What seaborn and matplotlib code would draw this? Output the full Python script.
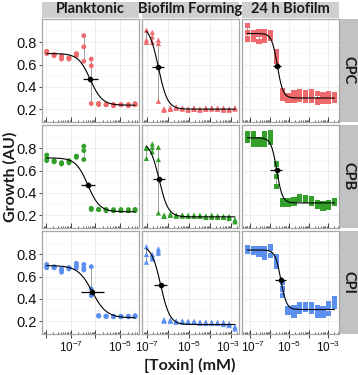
import numpy as np
import pandas as pd
import matplotlib
matplotlib.use('Agg')
import matplotlib.pyplot as plt
import matplotlib.transforms as mtransforms
from matplotlib.patches import Rectangle
from matplotlib.ticker import FixedLocator, FuncFormatter, LogLocator, NullFormatter
import seaborn as sns

stages = ['Planktonic', 'Biofilm Forming', '24 h Biofilm']
toxins = ['CPC', 'CPB', 'CPI']
colors = ['#EE6A6D', '#33A02C', '#5B8FF0']
markers = ['o', '^', 's']

# log10 of [Toxin] (mM) for each stage
logc_plank = [-7.97, -7.67, -7.37, -7.07, -6.77, -6.47, -6.17, -5.87, -5.57, -5.27, -4.97, -4.67, -4.40]
logc_form = [-7.03, -6.75, -6.46, -6.19, -5.89, -5.61, -5.32, -5.04, -4.76, -4.48, -4.20, -3.92, -3.64, -3.36, -3.09, -2.81]
logc_24h = [-7.16, -6.86, -6.56, -6.26, -5.96, -5.67, -5.37, -5.07, -4.77, -4.47, -4.18, -3.88, -3.58, -3.28, -2.98, -2.69]

# growth replicates (AU), one triplet per concentration
cpc_plank = [[0.72, 0.70, 0.71], [0.69, 0.69, 0.68], [0.68, 0.66, 0.65], [0.66, 0.65, 0.66], [0.70, 0.68, 0.69],
             [0.86, 0.76, 0.63], [0.65, 0.59, 0.25], [0.25, 0.25, 0.24], [0.24, 0.24, 0.24], [0.24, 0.24, 0.23],
             [0.24, 0.24, 0.24], [0.24, 0.24, 0.23], [0.24, 0.25, 0.24]]
cpb_plank = [[0.74, 0.71, 0.69], [0.69, 0.68, 0.68], [0.67, 0.66, 0.67], [0.69, 0.68, 0.67], [0.73, 0.72, 0.73],
             [0.82, 0.78, 0.70], [0.26, 0.25, 0.26], [0.25, 0.25, 0.25], [0.25, 0.24, 0.25], [0.24, 0.25, 0.24],
             [0.25, 0.24, 0.24], [0.24, 0.24, 0.25], [0.25, 0.24, 0.25]]
cpi_plank = [[0.71, 0.68, 0.69], [0.69, 0.68, 0.68], [0.67, 0.64, 0.66], [0.68, 0.67, 0.68], [0.72, 0.70, 0.68],
             [0.71, 0.68, 0.66], [0.69, 0.49, 0.43], [0.25, 0.245, 0.25], [0.245, 0.24, 0.245], [0.24, 0.245, 0.24],
             [0.245, 0.24, 0.24], [0.24, 0.24, 0.245], [0.25, 0.245, 0.24]]

cpc_form = [[0.91, 0.82, 0.80], [0.89, 0.85, 0.80], [0.82, 0.79, 0.27], [0.20, 0.19, 0.20], [0.21, 0.20, 0.20],
            [0.22, 0.21, 0.21], [0.21, 0.20, 0.21], [0.20, 0.20, 0.19], [0.21, 0.20, 0.20], [0.20, 0.19, 0.20],
            [0.21, 0.20, 0.20], [0.21, 0.20, 0.21], [0.21, 0.20, 0.20], [0.21, 0.19, 0.20], [0.20, 0.19, 0.20],
            [0.21, 0.20, 0.21]]
cpb_form = [[0.81, 0.80, 0.71], [0.84, 0.81, 0.77], [0.81, 0.70, 0.22], [0.19, 0.20, 0.19], [0.20, 0.21, 0.20],
            [0.20, 0.19, 0.20], [0.20, 0.20, 0.19], [0.19, 0.20, 0.19], [0.20, 0.19, 0.19], [0.19, 0.20, 0.19],
            [0.19, 0.19, 0.18], [0.20, 0.19, 0.18], [0.19, 0.18, 0.19], [0.19, 0.18, 0.18], [0.19, 0.17, 0.18],
            [0.16, 0.14, 0.15]]
cpi_form = [[0.87, 0.80, 0.73], [0.80, 0.76, 0.78], [0.85, 0.81, 0.83], [0.21, 0.20, 0.21], [0.21, 0.20, 0.20],
            [0.20, 0.20, 0.19], [0.20, 0.19, 0.20], [0.20, 0.19, 0.19], [0.19, 0.19, 0.20], [0.19, 0.19, 0.18],
            [0.19, 0.18, 0.19], [0.19, 0.18, 0.18], [0.19, 0.18, 0.18], [0.19, 0.18, 0.17], [0.18, 0.16, 0.17],
            [0.15, 0.13, 0.14]]

cpc_24h = [[0.95, 0.89, 0.83], [0.89, 0.86, 0.83], [0.90, 0.87, 0.81], [0.90, 0.86, 0.82], [0.89, 0.86, 0.84],
           [0.72, 0.67, 0.63], [0.37, 0.34, 0.30], [0.32, 0.30, 0.28], [0.35, 0.30, 0.28], [0.36, 0.31, 0.29],
           [0.35, 0.30, 0.28], [0.36, 0.32, 0.28], [0.34, 0.29, 0.26], [0.33, 0.30, 0.27], [0.34, 0.30, 0.27],
           [0.33, 0.30, 0.28]]
cpb_24h = [[0.93, 0.90, 0.87], [0.93, 0.88, 0.84], [0.88, 0.85, 0.84], [0.93, 0.88, 0.84], [0.94, 0.90, 0.85],
           [0.66, 0.55, 0.46], [0.33, 0.31, 0.30], [0.33, 0.31, 0.30], [0.34, 0.32, 0.31], [0.37, 0.35, 0.34],
           [0.36, 0.34, 0.33], [0.35, 0.33, 0.31], [0.31, 0.30, 0.28], [0.30, 0.28, 0.26], [0.31, 0.29, 0.27],
           [0.33, 0.32, 0.31]]
cpi_24h = [[0.86, 0.835, 0.83], [0.85, 0.83, 0.82], [0.85, 0.82, 0.80], [0.85, 0.82, 0.77], [0.87, 0.85, 0.79],
           [0.785, 0.74, 0.695], [0.55, 0.49, 0.43], [0.31, 0.28, 0.30], [0.32, 0.28, 0.25], [0.35, 0.32, 0.29],
           [0.35, 0.31, 0.33], [0.35, 0.29, 0.32], [0.32, 0.28, 0.25], [0.31, 0.25, 0.28], [0.36, 0.32, 0.27],
           [0.40, 0.36, 0.33]]

# fitted dose-response parameters [toxin][stage]
fit_top = [[0.70, 0.95, 0.88], [0.715, 0.86, 0.895], [0.70, 0.88, 0.84]]
fit_bottom = [[0.235, 0.20, 0.30], [0.23, 0.185, 0.31], [0.23, 0.17, 0.305]]
fit_logic50 = [[-6.21, -6.46, -5.62], [-6.31, -6.43, -5.65], [-6.13, -6.35, -5.44]]
fit_hill = [[1.8, 2.0, 3.0], [1.8, 2.0, 3.0], [1.5, 2.0, 3.0]]
ic50_lo = [[-6.50, -6.75, -5.86], [-6.57, -6.71, -6.00], [-6.57, -6.67, -5.74]]
ic50_hi = [[-5.90, -6.19, -5.42], [-6.00, -6.14, -5.37], [-5.64, -6.03, -5.17]]

logc = [logc_plank, logc_form, logc_24h]
growth = [[cpc_plank, cpc_form, cpc_24h], [cpb_plank, cpb_form, cpb_24h], [cpi_plank, cpi_form, cpi_24h]]
xlims = [(10**-8.16, 10**-4.24), (10**-7.24, 10**-2.62), (10**-7.43, 10**-2.46)]
decades = [[-8, -7, -6, -5], [-7, -6, -5, -4, -3], [-7, -6, -5, -4, -3]]

rows = []
for ti, tox in enumerate(toxins):
    for si, stage in enumerate(stages):
        for lc, reps in zip(logc[si], growth[ti][si]):
            for v in reps:
                rows.append({'toxin': tox, 'stage': stage, 'conc': 10 ** lc, 'growth': v})
df = pd.DataFrame(rows)

sns.set_theme(style='white')
plt.rcParams['font.family'] = ['Liberation Sans', 'DejaVu Sans']
plt.rcParams['mathtext.fontset'] = 'custom'
plt.rcParams['mathtext.rm'] = 'Liberation Sans'
plt.rcParams['mathtext.it'] = 'Liberation Sans:italic'
plt.rcParams['mathtext.bf'] = 'Liberation Sans:bold'

fig, axes = plt.subplots(3, 3, figsize=(3.58, 3.75), dpi=100, sharex='col', sharey=True)
fig.subplots_adjust(left=42 / 358, right=339 / 358, bottom=1 - 334 / 375, top=1 - 19 / 375,
                    wspace=0.031, hspace=0.03)


def dec_label(v, pos):
    e = int(round(np.log10(v)))
    if e in (-7, -5, -3):
        return r'$10^{%d}$' % e
    return ''


for ti, tox in enumerate(toxins):
    for si, stage in enumerate(stages):
        ax = axes[ti, si]
        sub = df[(df['toxin'] == tox) & (df['stage'] == stage)]
        ax.set_xscale('log')

        # replicate range per concentration
        rng = sub.groupby('conc')['growth'].agg(['min', 'max'])
        ax.vlines(rng.index, rng['min'], rng['max'], color='#A0A0A0', lw=0.7, zorder=2)

        sns.scatterplot(data=sub, x='conc', y='growth', marker=markers[si], color=colors[ti],
                        s=14 if si else 12, edgecolor='none', linewidth=0, legend=False, ax=ax, zorder=3)

        # fitted curve
        xs = np.linspace(logc[si][0], logc[si][-1], 300)
        top, bot = fit_top[ti][si], fit_bottom[ti][si]
        l50, h = fit_logic50[ti][si], fit_hill[ti][si]
        ys = bot + (top - bot) / (1 + 10 ** (h * (xs - l50)))
        ax.plot(10 ** xs, ys, color='black', lw=0.8, zorder=4)

        y50 = (top + bot) / 2
        ax.errorbar(10 ** l50, y50,
                    xerr=[[10 ** l50 - 10 ** ic50_lo[ti][si]], [10 ** ic50_hi[ti][si] - 10 ** l50]],
                    yerr=0.022, fmt='o', ms=3, color='black', elinewidth=0.9, capsize=0, zorder=5)

        ax.set_xlim(*xlims[si])
        ax.set_ylim(0.085, 1.01)
        ax.set_xlabel('')
        ax.set_ylabel('')
        ax.set_facecolor('white')

        ax.xaxis.set_major_locator(FixedLocator([10.0 ** d for d in decades[si]]))
        ax.xaxis.set_minor_locator(LogLocator(base=10, subs=np.arange(2, 10), numticks=30))
        ax.xaxis.set_major_formatter(FuncFormatter(dec_label))
        ax.xaxis.set_minor_formatter(NullFormatter())
        ax.set_yticks([0.2, 0.4, 0.6, 0.8])
        ax.set_yticks([0.3, 0.5, 0.7, 0.9], minor=True)

        ax.grid(True, which='major', color='#EBEBEB', lw=0.6)
        ax.grid(True, which='minor', axis='y', color='#F4F4F4', lw=0.4)
        ax.set_axisbelow(True)

        bottom_row = ti == 2
        ax.tick_params(axis='x', which='major', direction='inout' if bottom_row else 'in',
                       length=6 if bottom_row else 3.5, width=0.6, color='#222222',
                       bottom=True, labelsize=8.5, pad=1.5, labelcolor='#111111')
        ax.tick_params(axis='x', which='minor', direction='in', length=1.8, width=0.5,
                       color='#222222', bottom=True)
        ax.tick_params(axis='y', which='major', direction='out', length=2.5 if si == 0 else 0,
                       width=0.6, color='#333333', left=si == 0, labelsize=10.5, pad=1.5,
                       labelcolor='#111111')
        ax.tick_params(axis='y', which='minor', length=0)

        for sp in ax.spines.values():
            sp.set_color('#A6A6A6')
            sp.set_linewidth(0.9)

# nudge the two labels that meet at the column boundary
nudge_left = mtransforms.ScaledTranslation(-3 / 100, 0, fig.dpi_scale_trans)
nudge_right = mtransforms.ScaledTranslation(3 / 100, 0, fig.dpi_scale_trans)
lbls = axes[2, 1].get_xticklabels()
lbls[-1].set_transform(lbls[-1].get_transform() + nudge_left)
lbls = axes[2, 2].get_xticklabels()
lbls[0].set_transform(lbls[0].get_transform() + nudge_right)

# facet strips
for si, stage in enumerate(stages):
    ax = axes[0, si]
    ax.add_patch(Rectangle((0, 1 + 1 / 102), 1, 16 / 102, transform=ax.transAxes,
                           clip_on=False, facecolor='#CFCFCF', edgecolor='none'))
    ax.text(0.5, 1 + 9.5 / 102, stage, transform=ax.transAxes, ha='center', va='center',
            fontsize=10.5, fontweight='bold', family='Lato', color='#1A1A1A')
for ti, tox in enumerate(toxins):
    ax = axes[ti, 2]
    ax.add_patch(Rectangle((1 + 1 / 97, 0), 18 / 97, 1, transform=ax.transAxes,
                           clip_on=False, facecolor='#C2C2C2', edgecolor='none'))
    ax.text(1 + 10 / 97, 0.5, tox, transform=ax.transAxes, ha='center', va='center',
            rotation=270, fontsize=10.5, fontweight='bold', family='Lato', color='#1A1A1A')

fig.text(10 / 358, 1 - 176.5 / 375, 'Growth (AU)', rotation=90, ha='center', va='center',
         fontsize=11.5, fontweight='bold', family='Lato', color='#1A1A1A')
fig.text(190 / 358, 1 - 365 / 375, '[Toxin] (mM)', ha='center', va='center',
         fontsize=11.5, fontweight='bold', family='Lato', color='#1A1A1A')

fig.savefig('out.png', dpi=100)
